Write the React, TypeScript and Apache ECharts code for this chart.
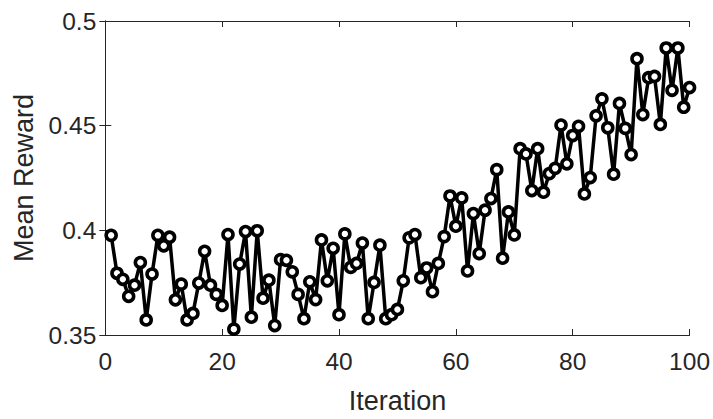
import React, { useEffect, useRef } from "react";
import * as echarts from "echarts";

const iterations: number[] = Array.from({ length: 100 }, (_, i) => i + 1);
const meanReward: number[] = [
  0.3976, 0.3795, 0.3766, 0.3685, 0.3738, 0.3846, 0.3572, 0.3791, 0.3976, 0.3926,
  0.3967, 0.3668, 0.3743, 0.3572, 0.3603, 0.3748, 0.3900, 0.3738, 0.3694, 0.3641,
  0.3980, 0.3528, 0.3839, 0.3994, 0.3585, 0.3998, 0.3676, 0.3762, 0.3545, 0.3860,
  0.3857, 0.3802, 0.3694, 0.3578, 0.3754, 0.3669, 0.3954, 0.3759, 0.3914, 0.3597,
  0.3983, 0.3823, 0.3842, 0.3939, 0.3578, 0.3751, 0.3929, 0.3578, 0.3597, 0.3622,
  0.3759, 0.3964, 0.3980, 0.3774, 0.3820, 0.3707, 0.3842, 0.3970, 0.4164, 0.4020,
  0.4155, 0.3806, 0.4080, 0.3889, 0.4096, 0.4152, 0.4290, 0.3867, 0.4088, 0.3978,
  0.4390, 0.4365, 0.4190, 0.4390, 0.4182, 0.4271, 0.4296, 0.4503, 0.4318, 0.4453,
  0.4497, 0.4174, 0.4252, 0.4547, 0.4628, 0.4490, 0.4268, 0.4606, 0.4487, 0.4362,
  0.4820, 0.4553, 0.4729, 0.4735, 0.4506, 0.4871, 0.4669, 0.4871, 0.4588, 0.4682,
];
const xTicks: number[] = [0, 20, 40, 60, 80, 100];
const yTicks: string[] = ["0.35", "0.4", "0.45", "0.5"];

const TEXT = "#262626";
const FONT = "'Liberation Sans', Arial, Helvetica, sans-serif";

export default function App() {
  const ref = useRef<HTMLDivElement>(null);
  useEffect(() => {
    if (!ref.current) return;
    const chart = echarts.init(ref.current, undefined, { renderer: "svg" });
    const axisLine = { show: true, lineStyle: { color: TEXT, width: 1 } };
    const axisTick = { show: true, inside: true, length: 6, lineStyle: { color: TEXT, width: 1 } };
    chart.setOption({
      animation: false,
      backgroundColor: "#ffffff",
      grid: { left: 105.3, right: 22.5, top: 21, bottom: 79, containLabel: false },
      xAxis: [
        {
          type: "value",
          min: xTicks[0],
          max: xTicks[xTicks.length - 1],
          interval: 20,
          position: "bottom",
          name: "Iteration",
          nameLocation: "middle",
          nameGap: 52,
          nameTextStyle: { color: TEXT, fontSize: 27, fontFamily: FONT },
          axisLine,
          axisTick,
          splitLine: { show: false },
          axisLabel: { color: TEXT, fontSize: 24.5, fontFamily: FONT, margin: 14 },
        },
        {
          type: "value",
          min: xTicks[0],
          max: xTicks[xTicks.length - 1],
          interval: 20,
          position: "top",
          axisLine,
          axisTick,
          splitLine: { show: false },
          axisLabel: { show: false },
        },
      ],
      yAxis: [
        {
          type: "value",
          min: 0.35,
          max: 0.5,
          interval: 0.05,
          position: "left",
          name: "Mean Reward",
          nameLocation: "middle",
          nameRotate: 90,
          nameGap: 66,
          nameTextStyle: { color: TEXT, fontSize: 27, fontFamily: FONT },
          axisLine,
          axisTick,
          splitLine: { show: false },
          axisLabel: {
            color: TEXT,
            fontSize: 24.5,
            fontFamily: FONT,
            margin: 9,
            formatter: (v: number) => {
              const s = yTicks.find((t) => Math.abs(parseFloat(t) - v) < 1e-9);
              return s ?? "";
            },
          },
        },
        {
          type: "value",
          min: 0.35,
          max: 0.5,
          interval: 0.05,
          position: "right",
          axisLine,
          axisTick,
          splitLine: { show: false },
          axisLabel: { show: false },
        },
      ],
      series: [
        {
          type: "line",
          xAxisIndex: 0,
          yAxisIndex: 0,
          data: iterations.map((x, i) => [x, meanReward[i]]),
          lineStyle: { color: "#000000", width: 3.5 },
          symbol: "circle",
          symbolSize: 10,
          showSymbol: true,
          itemStyle: { color: "#ffffff", borderColor: "#000000", borderWidth: 3.6 },
          emphasis: { disabled: true },
          clip: false,
        },
      ],
    });
    return () => chart.dispose();
  }, []);
  return (
    <div
      ref={ref}
      style={{ position: "absolute", left: 0, top: 0, width: 713, height: 419, background: "#fff" }}
    />
  );
}
